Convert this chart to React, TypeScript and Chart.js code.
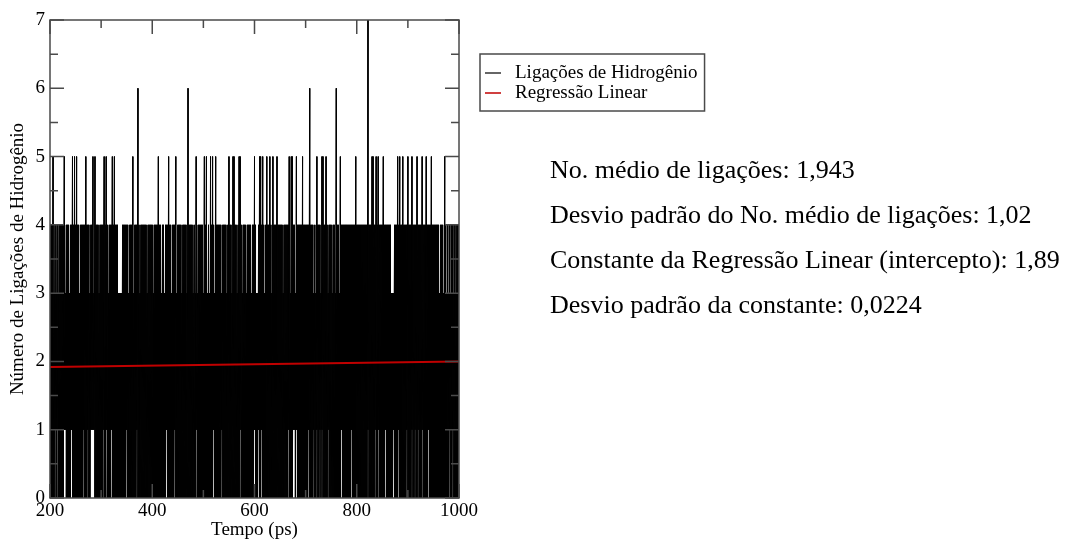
import React, { useEffect, useRef } from "react";
import { Chart, registerables } from "chart.js";

Chart.register(...registerables);

// Time grid: one window every 2 ps, from 200 ps
const T_START = 200;
const T_STEP = 2;

// Highest number of H-bonds seen in each 2 ps window
const peakCount = [
  4,4,4,5,3,4,3,4,3,4,
  4,4,4,4,5,3,4,4,4,3,
  4,4,5,4,5,4,5,4,4,3,
  4,4,4,4,4,5,4,4,4,3,
  4,4,5,3,5,4,4,4,3,4,
  4,4,4,5,4,5,4,3,4,4,
  4,5,4,5,4,4,4,3,3,3,
  3,4,4,4,4,4,4,3,4,4,
  4,5,3,4,4,4,6,4,3,4,
  4,4,4,4,4,3,4,4,4,4,
  4,3,4,4,4,4,5,4,4,3,
  4,4,3,4,4,4,5,4,4,3,
  4,4,4,5,3,4,4,4,4,3,
  4,4,4,4,3,6,4,4,4,4,
  3,4,3,5,3,4,4,4,4,4,
  3,5,4,5,3,4,3,5,4,5,
  4,3,5,4,4,4,4,4,3,4,
  4,4,4,3,4,5,4,4,3,5,
  5,4,4,3,4,5,5,4,3,4,
  4,4,3,4,4,4,4,3,4,4,
  5,4,3,3,4,5,5,4,5,4,
  3,4,5,4,4,5,4,3,5,4,
  4,4,5,4,4,4,4,4,3,4,
  4,4,4,4,5,3,5,5,4,4,
  3,5,4,4,4,4,4,5,4,4,
  4,4,4,4,6,4,4,4,3,4,
  3,5,4,4,4,3,5,5,4,4,
  5,4,3,4,4,4,3,4,4,3,
  6,4,4,3,5,4,4,4,4,4,
  4,4,4,4,4,4,4,4,4,5,
  4,4,4,4,4,4,4,4,4,4,
  4,7,4,4,4,5,5,4,4,5,
  4,5,4,4,4,4,5,4,4,4,
  4,4,4,4,3,3,3,4,4,4,
  5,4,5,4,4,5,4,4,4,4,
  5,4,4,4,5,4,4,4,4,5,
  4,4,4,4,5,4,4,4,5,4,
  4,4,4,5,4,4,4,4,4,4,
  4,3,4,4,4,3,5,4,3,4,
  3,4,3,4,4,3,4,3,4,4,
];

// Lowest number of H-bonds seen in each 2 ps window
const lowCount = [
  0,0,0,0,0,1,0,1,0,0,
  0,0,0,0,1,1,0,0,0,0,
  0,1,0,0,0,0,0,0,0,0,
  0,0,0,1,0,0,0,1,0,0,
  1,1,1,1,0,0,0,0,0,0,
  0,0,1,0,0,1,0,0,0,0,
  1,0,0,0,0,0,0,0,0,0,
  0,0,0,0,0,1,0,0,0,0,
  0,0,0,0,0,1,0,0,0,0,
  0,0,0,0,0,0,0,0,0,0,
  0,0,0,0,0,0,0,0,0,0,
  0,0,0,0,1,0,0,0,0,0,
  0,0,1,0,0,0,0,0,0,0,
  0,0,0,0,0,0,0,0,0,0,
  0,0,0,1,0,0,0,0,0,0,
  0,0,0,0,0,0,0,0,0,0,
  1,0,0,0,0,0,0,0,1,0,
  0,0,0,0,0,0,0,0,0,0,
  0,0,0,0,0,0,1,0,0,0,
  0,0,0,0,0,0,0,0,0,0,
  1,0,0,0,1,0,0,1,0,0,
  0,0,0,0,0,0,0,0,0,0,
  0,0,0,0,0,0,0,0,0,0,
  0,0,0,1,0,0,0,0,1,1,
  0,1,0,0,0,0,0,0,0,0,
  0,0,0,1,0,0,0,0,1,0,
  0,1,0,0,1,0,1,0,0,0,
  0,0,1,0,0,0,0,0,0,0,
  0,0,0,0,0,1,0,0,0,0,
  0,0,0,0,0,1,0,0,0,0,
  0,0,0,0,0,0,0,0,0,0,
  0,1,0,0,0,0,0,0,1,0,
  0,1,0,0,0,0,0,0,1,0,
  0,0,0,0,0,0,1,0,0,0,
  0,1,0,0,0,0,0,0,0,1,
  0,0,0,0,1,0,0,1,0,0,
  1,0,0,0,1,0,0,0,0,0,
  1,0,0,0,0,0,0,0,0,0,
  0,0,0,0,0,0,0,0,0,0,
  0,1,0,0,1,0,0,0,0,0,
];

// Linear regression line (ps, number of bonds)
const regressionTimes = [200, 1000];
const regressionValues = [1.92, 2.0];

// Axis ticks
const xMajorTicks = [200, 400, 600, 800, 1000];
const xMinorTicks = [300, 500, 700, 900];
const yMajorTicks = [0, 1, 2, 3, 4, 5, 6, 7];
const yMinorTicks = [0.5, 1.5, 2.5, 3.5, 4.5, 5.5, 6.5];

const seriesLabels = ["Ligações de Hidrogênio", "Regressão Linear"];
const seriesColors = ["#000000", "#c00000"];

const statLines = [
  "No. médio de ligações: 1,943",
  "Desvio padrão do No. médio de ligações: 1,02",
  "Constante da Regressão Linear (intercepto): 1,89",
  "Desvio padrão da constante: 0,0224",
];

const W = 1074;
const H = 541;
const SERIF = '"Liberation Serif", "Times New Roman", serif';

const framePlugin = {
  id: "xmgraceFrame",
  afterDatasetsDraw(chart: any) {
    const { ctx, chartArea, scales } = chart;
    const { left, right, top, bottom } = chartArea;
    const xs = scales.x;
    const ys = scales.y;
    ctx.save();
    ctx.strokeStyle = "#4a4a4a";
    ctx.lineWidth = 1.5;
    ctx.strokeRect(left, top, right - left, bottom - top);
    const major = 14;
    const minor = 8;
    ctx.beginPath();
    const xt = (v: number, len: number) => {
      const px = xs.getPixelForValue(v);
      ctx.moveTo(px, bottom);
      ctx.lineTo(px, bottom - len);
      ctx.moveTo(px, top);
      ctx.lineTo(px, top + len);
    };
    const yt = (v: number, len: number) => {
      const py = ys.getPixelForValue(v);
      ctx.moveTo(left, py);
      ctx.lineTo(left + len, py);
      ctx.moveTo(right, py);
      ctx.lineTo(right - len, py);
    };
    xMajorTicks.forEach((v) => xt(v, major));
    xMinorTicks.forEach((v) => xt(v, minor));
    yMajorTicks.forEach((v) => yt(v, major));
    yMinorTicks.forEach((v) => yt(v, minor));
    ctx.stroke();

    // legend box
    const lx = 480;
    const ly = 54;
    ctx.font = "19px " + SERIF;
    let maxW = 0;
    seriesLabels.forEach((t) => (maxW = Math.max(maxW, ctx.measureText(t).width)));
    const textX = 515;
    const boxW = textX + maxW + 7 - lx;
    const boxH = 57;
    ctx.fillStyle = "#fff";
    ctx.fillRect(lx, ly, boxW, boxH);
    ctx.strokeStyle = "#4a4a4a";
    ctx.lineWidth = 1.5;
    ctx.strokeRect(lx, ly, boxW, boxH);
    seriesLabels.forEach((t, i) => {
      const cy = ly + 19 + i * 20;
      ctx.strokeStyle = i === 0 ? "#333" : seriesColors[i];
      ctx.lineWidth = 1.5;
      ctx.beginPath();
      ctx.moveTo(485, cy);
      ctx.lineTo(501, cy);
      ctx.stroke();
      ctx.fillStyle = "#000";
      ctx.textBaseline = "middle";
      ctx.textAlign = "left";
      ctx.fillText(t, textX, cy);
    });
    ctx.restore();
  },
};

export default function App() {
  const canvasRef = useRef<HTMLCanvasElement | null>(null);

  useEffect(() => {
    const canvas = canvasRef.current;
    if (!canvas) return;

    // Each 2 ps window: a stroke from its high count down to its low count,
    // then on to the next window's high count.
    const hbPoints: { x: number; y: number }[] = [];
    peakCount.forEach((hi, i) => {
      const t = T_START + i * T_STEP;
      hbPoints.push({ x: t, y: hi }, { x: t, y: lowCount[i] });
    });
    const regPoints = regressionTimes.map((t, i) => ({ x: t, y: regressionValues[i] }));

    const tickFont = { family: SERIF, size: 19 };

    const chart = new Chart(canvas, {
      type: "line",
      data: {
        datasets: [
          {
            label: seriesLabels[0],
            data: hbPoints,
            borderColor: seriesColors[0],
            borderWidth: 1,
            pointRadius: 0,
            tension: 0,
            order: 1,
          },
          {
            label: seriesLabels[1],
            data: regPoints,
            borderColor: seriesColors[1],
            borderWidth: 2,
            pointRadius: 0,
            tension: 0,
            order: 0,
          },
        ],
      },
      options: {
        animation: false,
        responsive: false,
        maintainAspectRatio: false,
        parsing: false,
        normalized: true,
        events: [],
        layout: { padding: { left: 0, top: 20, right: W - 459, bottom: 0 } },
        plugins: { legend: { display: false }, tooltip: { enabled: false } },
        scales: {
          x: {
            type: "linear",
            min: 200,
            max: 1000,
            afterBuildTicks: (s: any) => {
              s.ticks = xMajorTicks.map((v) => ({ value: v }));
            },
            afterFit: (s: any) => {
              s.height = H - 498;
            },
            grid: { display: false, drawTicks: false },
            border: { display: false },
            ticks: {
              font: tickFont,
              color: "#000",
              padding: 2,
              maxRotation: 0,
              autoSkip: false,
              callback: (v: any) => String(v),
            },
            title: {
              display: true,
              text: "Tempo (ps)",
              font: tickFont,
              color: "#000",
              padding: { top: 0, bottom: 0 },
            },
          },
          y: {
            type: "linear",
            min: 0,
            max: 7,
            afterBuildTicks: (s: any) => {
              s.ticks = yMajorTicks.map((v) => ({ value: v }));
            },
            afterFit: (s: any) => {
              s.width = 50;
            },
            grid: { display: false, drawTicks: false },
            border: { display: false },
            ticks: {
              font: tickFont,
              color: "#000",
              padding: 5,
              autoSkip: false,
              callback: (v: any) => String(v),
            },
            title: {
              display: true,
              text: "Número de Ligações de Hidrogênio",
              font: tickFont,
              color: "#000",
              padding: { top: 7, bottom: 0 },
            },
          },
        },
      },
      plugins: [framePlugin],
    } as any);

    return () => chart.destroy();
  }, []);

  return (
    <div style={{ position: "absolute", left: 0, top: 0, width: W, height: H, background: "#fff" }}>
      <canvas ref={canvasRef} width={W} height={H} style={{ position: "absolute", left: 0, top: 0 }} />
      <div
        style={{
          position: "absolute",
          left: 550,
          top: 147,
          fontFamily: SERIF,
          fontSize: 26,
          lineHeight: "45px",
          color: "#000",
          whiteSpace: "nowrap",
        }}
      >
        {statLines.map((s, i) => (
          <div key={i}>{s}</div>
        ))}
      </div>
    </div>
  );
}
